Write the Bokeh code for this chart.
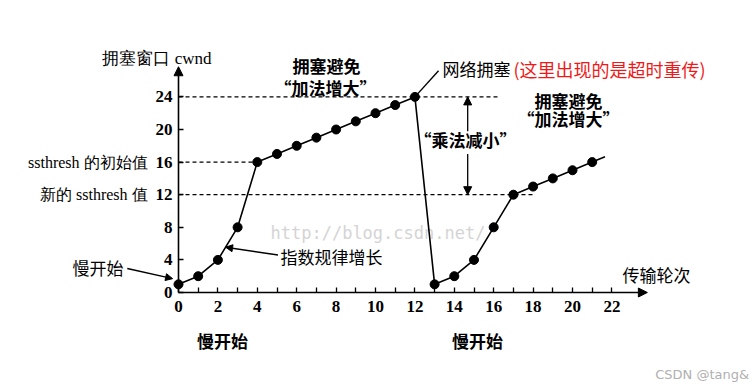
from bokeh.plotting import figure
from bokeh.models import Range1d, FixedTicker, Label, Arrow, NormalHead
from bokeh.embed import file_html
from bokeh.resources import INLINE

# ---------------- data ----------------
rounds = list(range(0, 22))
cwnd = [1, 2, 4, 8, 16, 17, 18, 19, 20, 21, 22, 23, 24,
        1, 2, 4, 8, 12, 13, 14, 15, 16]
tail_x = [21, 21.65]
tail_y = [16, 16.65]

x_ticks = [0, 2, 4, 6, 8, 10, 12, 14, 16, 18, 20, 22]
x_minor_ticks = [1, 3, 5, 7, 9, 11, 13, 15, 17, 19, 21]
y_ticks = [0, 4, 8, 12, 16, 20, 24]

thresh_y = [24, 16, 12]
thresh_x_end = [16.2, 4, 18.0]

congestion_ptr_x = [12, 13.2]
congestion_ptr_y = [24, 27.2]

SERIF = "Liberation Serif"
CJK = "Noto Sans CJK SC"

W, H = 750, 386
PX_X, PX_Y = 19.7, 8.15          # pixels per data unit
ORIGIN_X, ORIGIN_Y = 178, 292    # pixel position of (0, 0)

p = figure(width=W, height=H,
           x_range=Range1d(-ORIGIN_X / PX_X, (W - ORIGIN_X) / PX_X),
           y_range=Range1d(-(H - ORIGIN_Y) / PX_Y, ORIGIN_Y / PX_Y),
           output_backend="svg", toolbar_location=None,
           min_border_left=0, min_border_right=0,
           min_border_top=0, min_border_bottom=0)
p.outline_line_color = None
p.background_fill_color = "white"
p.border_fill_color = "white"
p.grid.visible = False

# x axis (ticks + labels) at y = 0, axis line drawn as arrow
xa = p.xaxis[0]
xa.fixed_location = 0
xa.ticker = FixedTicker(ticks=x_ticks, minor_ticks=x_minor_ticks)
xa.axis_line_color = None
xa.major_tick_in = 5
xa.major_tick_out = 0
xa.minor_tick_in = 5
xa.minor_tick_out = 0
xa.major_tick_line_color = "black"
xa.minor_tick_line_color = "black"
xa.major_tick_line_width = 1.3
xa.minor_tick_line_width = 1.3
xa.major_label_text_font = SERIF
xa.major_label_text_font_size = "17px"
xa.major_label_text_font_style = "bold"
xa.major_label_text_color = "black"
xa.major_label_standoff = 8

ya = p.yaxis[0]
ya.fixed_location = 0
ya.ticker = FixedTicker(ticks=y_ticks)
ya.axis_line_color = None
ya.major_tick_line_color = "black"
ya.major_tick_line_width = 1.3
ya.minor_tick_line_color = None
ya.major_tick_in = 5
ya.major_tick_out = 0
ya.major_label_text_font = SERIF
ya.major_label_text_font_size = "17px"
ya.major_label_text_font_style = "bold"
ya.major_label_text_color = "black"
ya.major_label_standoff = 6

# axis lines with arrows
head = dict(size=9, fill_color="black", line_color="black")
p.add_layout(Arrow(end=NormalHead(**head), x_start=0, y_start=0, x_end=23.8, y_end=0,
                   line_width=1.6, line_color="black"))
p.add_layout(Arrow(end=NormalHead(**head), x_start=0, y_start=0, x_end=0, y_end=27.7,
                   line_width=1.6, line_color="black"))

# watermark
p.add_layout(Label(x=4.67, y=7.36, text="http://blog.csdn.net/", text_align="left",
                   text_baseline="middle", text_font="DejaVu Sans Mono",
                   text_font_size="17px", text_color="#d4d4d4", level="underlay"))

# threshold dashed lines
p.segment(x0=[0] * len(thresh_y), y0=thresh_y, x1=thresh_x_end, y1=thresh_y,
          line_dash="4 3", line_color="black", line_width=1.3)

# cwnd curve
p.line(rounds, cwnd, line_color="black", line_width=1.6)
p.line(tail_x, tail_y, line_color="black", line_width=1.6)
p.line(congestion_ptr_x, congestion_ptr_y, line_color="black", line_width=1.4)
p.scatter(rounds, cwnd, size=9, color="black")

# multiplicative-decrease double arrow
p.add_layout(Arrow(end=NormalHead(size=8, fill_color="black", line_color="black"),
                   x_start=14.68, y_start=19.8, x_end=14.68, y_end=24,
                   line_width=1.3, line_color="black"))
p.add_layout(Arrow(end=NormalHead(size=8, fill_color="black", line_color="black"),
                   x_start=14.68, y_start=17.0, x_end=14.68, y_end=12,
                   line_width=1.3, line_color="black"))

# annotation arrows
p.add_layout(Arrow(end=NormalHead(size=7, fill_color="black", line_color="black"),
                   x_start=5.05, y_start=4.6, x_end=2.39, y_end=5.56,
                   line_width=1.4, line_color="black"))
p.add_layout(Arrow(end=NormalHead(size=7, fill_color="black", line_color="black"),
                   x_start=-2.6, y_start=2.95, x_end=-0.3, y_end=1.7,
                   line_width=1.4, line_color="black"))


def lab(x, y, text, align="center", size="17px", font=CJK, style="normal", color="black"):
    p.add_layout(Label(x=x, y=y, text=text, text_align=align, text_baseline="middle",
                       text_font=font, text_font_size=size, text_font_style=style,
                       text_color=color))


lab(-3.86, 28.7, "拥塞窗口 cwnd", align="left", font=SERIF)
lab(-1.57, 16, "ssthresh 的初始值", align="right", size="16px", font=SERIF)
lab(-1.57, 12, "新的 ssthresh 值", align="right", size="16px", font=SERIF)
lab(-2.79, 3.07, "慢开始", align="right")
lab(7.51, 27.85, "拥塞避免", style="bold")
lab(7.46, 25.15, "“加法增大”", style="bold")
lab(13.4, 27.48, "网络拥塞", align="left")
lab(17.0, 27.48, "(这里出现的是超时重传)", align="left", size="18px", color="#f01818")
lab(14.57, 18.77, "“乘法减小”", style="bold")
lab(19.8, 23.56, "拥塞避免", style="bold")
lab(19.8, 21.35, "“加法增大”", style="bold")
lab(5.18, 4.42, "指数规律增长", align="left")
lab(22.54, 2.21, "传输轮次", align="left")
lab(2.23, -5.89, "慢开始", style="bold")
lab(15.18, -5.89, "慢开始", style="bold")
lab(24.2, -10.06, "CSDN @tang&", align="left", size="13px", font="DejaVu Sans", color="#b0b0b0")

open("out.html", "w").write(file_html(p, INLINE))
